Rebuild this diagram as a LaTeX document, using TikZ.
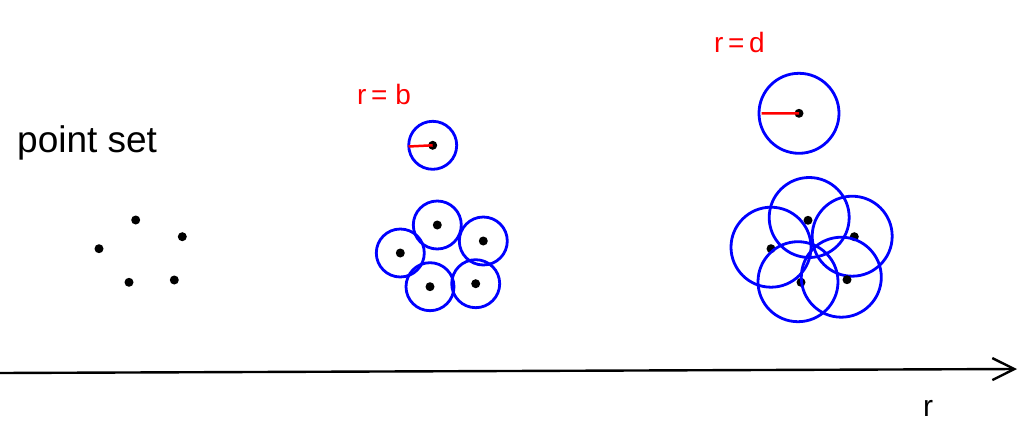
\documentclass[tikz,border=0pt]{standalone}
\usepackage{fontspec}
\setmainfont{Liberation Sans}
\usetikzlibrary{arrows.meta}
\tikzset{
  pt/.style={circle,fill=black,inner sep=0pt,minimum size=9pt},
  ballb/.style={circle,draw=blue,line width=2.8pt,inner sep=0pt,minimum size=48pt},
  balld/.style={circle,draw=blue,line width=2.8pt,inner sep=0pt,minimum size=80pt},
  rad/.style={draw=red,line width=2.5pt},
  lbl/.style={inner sep=0pt,text=red,font=\fontsize{28}{30}\selectfont},
  axis/.style={line width=2.4pt,-{Straight Barb[length=22pt,width=22pt,line width=2.4pt]}}
}
\begin{document}
\begin{tikzpicture}[x=1pt,y=-1pt]
\useasboundingbox (0,0) rectangle (1021,423);
% label
\node[inner sep=0pt,anchor=base west,font=\fontsize{37}{39}\selectfont] (title) at (17,152) {point set};
% point set
\node[pt] (p1) at (135.7,220) {};
\node[pt] (p2) at (182.3,236.7) {};
\node[pt] (p3) at (99,248.7) {};
\node[pt] (p4) at (129,282.3) {};
\node[pt] (p5) at (174.3,280) {};
% r = b
\node[lbl,anchor=base west] (lb) at (357,104) {r\,= b};
\node[ballb] (cb) at (432.7,145.3) {};
\node[pt] (ob) at (432.7,145.3) {};
\coordinate (eb) at (408.5,146.5);
\draw[rad] (eb) -- (ob.center);
\foreach \n/\x/\y in {1/437.3/225, 2/483.3/241, 3/400.3/253, 4/430/286.7, 5/475.7/283.7}{
  \node[ballb] (b\n) at (\x,\y) {};
  \node[pt] (q\n) at (\x,\y) {};
}
% r = d
\node[lbl,anchor=base west] (ld) at (714,52) {r\,=\,d};
\node[balld] (cd) at (799,113.3) {};
\node[pt] (od) at (799,113.3) {};
\coordinate (ed) at (761.5,113.5);
\draw[rad] (ed) -- (od.center);
\foreach \n/\x/\y/\cx/\cy in {1/808/220.3/809.2/217.5, 2/854.3/236.7/852.2/236.2, 3/771/248.7/771/247.2, 4/801/282.3/798/281.7, 5/847/279.7/841.3/277.2}{
  \node[balld] (d\n) at (\cx,\cy) {};
  \node[pt] (s\n) at (\x,\y) {};
}
% axis
\coordinate (a0) at (0,373);
\coordinate (a1) at (1017,369);
\draw[axis] (a0) -- (a1);
\node[inner sep=0pt,font=\fontsize{30}{32}\selectfont] (rl) at (928,408) {r};
\end{tikzpicture}
\end{document}
